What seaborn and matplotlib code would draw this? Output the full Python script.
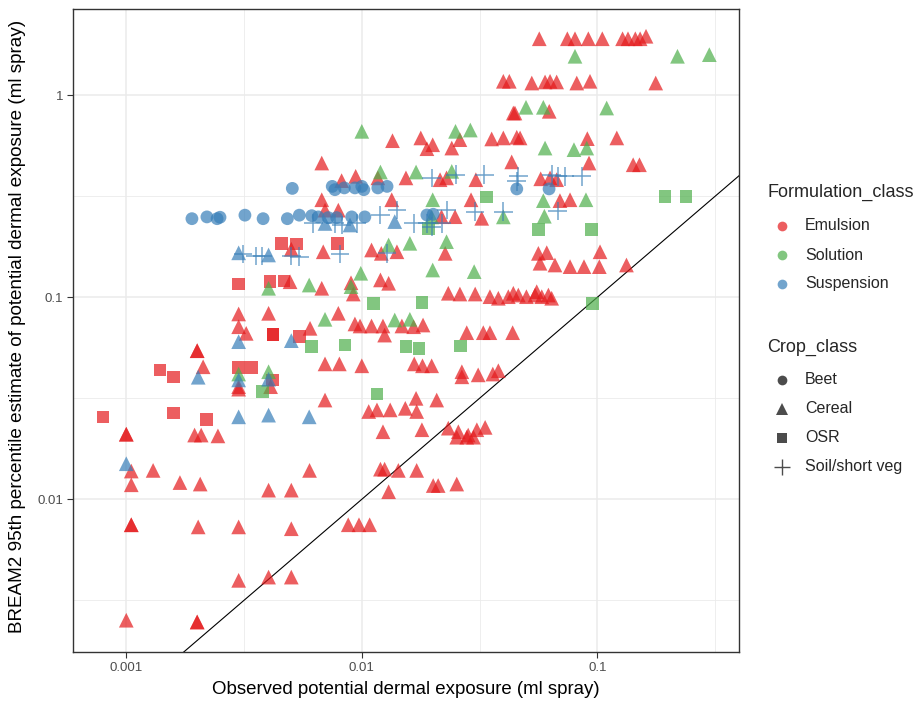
import numpy as np
import pandas as pd
import matplotlib
matplotlib.use("Agg")
import matplotlib.pyplot as plt
import seaborn as sns
from matplotlib.lines import Line2D
from matplotlib.ticker import FixedLocator, FixedFormatter, NullFormatter

sns.set_theme(style="white")
plt.rcParams["font.family"] = ["Liberation Sans", "DejaVu Sans"]

# ---------------- data ----------------
formulation_classes = ["Emulsion", "Solution", "Suspension"]
crop_classes = ["Beet", "Cereal", "OSR", "Soil/short veg"]
x_ticks = [0.001, 0.01, 0.1]
x_tick_labels = ["0.001", "0.01", "0.1"]
y_ticks = [0.01, 0.1, 1]
y_tick_labels = ["0.01", "0.1", "1"]

# Suspension / Beet
susp_beet_x = [0.0019, 0.0022, 0.00243, 0.0025, 0.00319, 0.00381, 0.00483, 0.00543, 0.00613,
               0.00653, 0.0072, 0.00782, 0.00906, 0.0103, 0.0189, 0.0201, 0.00507, 0.00749,
               0.00769, 0.00843, 0.00935, 0.0100, 0.0102, 0.0117, 0.0128, 0.0455, 0.0624]
susp_beet_y = [0.245, 0.25, 0.245, 0.249, 0.255, 0.245, 0.245, 0.255, 0.2535,
               0.25, 0.248, 0.248, 0.25, 0.25, 0.2555, 0.2576, 0.346, 0.354,
               0.341, 0.348, 0.348, 0.354, 0.341, 0.348, 0.354, 0.344, 0.344]

# Suspension / Cereal
susp_cereal_x = [0.00698, 0.00891, 0.0138, 0.003, 0.00402, 0.003, 0.00502, 0.00202, 0.003,
                 0.00402, 0.003, 0.00402, 0.00598, 0.001]
susp_cereal_y = [0.232, 0.228, 0.237, 0.166, 0.162, 0.0603, 0.061, 0.0402, 0.039,
                 0.0393, 0.0256, 0.0261, 0.0256, 0.015]

# Suspension / Soil-short veg
susp_soil_x = [0.00622, 0.00769, 0.00821, 0.00951, 0.012, 0.0141, 0.0166, 0.0189, 0.0218,
               0.0229, 0.0303, 0.0399, 0.0198, 0.0198, 0.025, 0.0331, 0.0455, 0.0462,
               0.064, 0.0679, 0.0729, 0.0858, 0.0679, 0.00313, 0.00354, 0.00378, 0.00502,
               0.00543, 0.00808, 0.0128]
susp_soil_y = [0.232, 0.232, 0.228, 0.232, 0.2555, 0.27, 0.232, 0.232, 0.232,
               0.27, 0.265, 0.265, 0.224, 0.39, 0.404, 0.404, 0.375, 0.397,
               0.404, 0.397, 0.397, 0.397, 0.267, 0.164, 0.16, 0.16, 0.16,
               0.159, 0.164, 0.165]

# Emulsion / Cereal
emul_cereal_x = [0.0567, 0.0746, 0.0804, 0.0916, 0.105, 0.128, 0.135, 0.145, 0.152, 0.161,
                 0.0399, 0.0423, 0.0527, 0.060, 0.063, 0.0672, 0.0818, 0.0931, 0.177,
                 0.044, 0.0447, 0.0625,
                 0.0135, 0.0178, 0.020, 0.0189, 0.0241, 0.0261, 0.0356, 0.0399, 0.0455, 0.047, 0.0907, 0.121,
                 0.00676, 0.0433, 0.0922, 0.142, 0.151,
                 0.00821, 0.00942, 0.0117, 0.0154, 0.0215, 0.0229, 0.0305, 0.0575, 0.063, 0.0672,
                 0.00676, 0.0134, 0.0291, 0.0694, 0.0766,
                 0.00698, 0.00795, 0.0218, 0.0249, 0.0323,
                 0.00686, 0.011, 0.0121, 0.0141, 0.0226, 0.00502, 0.0562, 0.061, 0.1027,
                 0.0571, 0.0661, 0.0766, 0.0878, 0.102, 0.133,
                 0.012, 0.013, 0.009, 0.0092, 0.00676, 0.00496,
                 0.0233, 0.0261, 0.0303, 0.035, 0.038, 0.0419, 0.044, 0.0462, 0.050, 0.0544, 0.0553,
                 0.0581, 0.062, 0.064,
                 0.00795, 0.00603, 0.003, 0.00402,
                 0.00935, 0.00983, 0.011, 0.0123, 0.0148, 0.0166, 0.0182, 0.0125, 0.0279, 0.0328,
                 0.035, 0.0437, 0.003, 0.00323,
                 0.002, 0.002,
                 0.00698, 0.00803, 0.010, 0.0167, 0.0181, 0.0198, 0.00212,
                 0.0266, 0.0266, 0.0312, 0.036, 0.038, 0.003, 0.003, 0.0041,
                 0.00698, 0.0208, 0.017,
                 0.0107, 0.0116, 0.0132, 0.0153, 0.0171,
                 0.0123, 0.018, 0.0233, 0.0257, 0.0283, 0.0308, 0.0334, 0.0253, 0.0279, 0.0298,
                 0.001, 0.001, 0.00195, 0.00208, 0.00245,
                 0.006, 0.012, 0.0125, 0.0143, 0.0171, 0.00105, 0.0013,
                 0.0201, 0.0211, 0.0253, 0.00105, 0.00169, 0.00206, 0.00402, 0.00502, 0.013,
                 0.00105, 0.00105, 0.00202, 0.003, 0.00502, 0.00876, 0.00973, 0.0108,
                 0.003, 0.00402, 0.00502,
                 0.001, 0.002, 0.002]
emul_cereal_y = [1.905, 1.905, 1.905, 1.905, 1.905, 1.905, 1.905, 1.905, 1.905, 1.96,
                 1.173, 1.173, 1.15, 1.164, 1.173, 1.164, 1.15, 1.173, 1.15,
                 0.817, 0.817, 0.833,
                 0.596, 0.615, 0.569, 0.544, 0.548, 0.603, 0.608, 0.615, 0.62, 0.615, 0.61, 0.615,
                 0.462, 0.468, 0.462, 0.453, 0.453,
                 0.378, 0.397, 0.39, 0.39, 0.382, 0.39, 0.382, 0.386, 0.39, 0.382,
                 0.304, 0.304, 0.304, 0.301, 0.304,
                 0.27, 0.27, 0.2506, 0.2506, 0.246,
                 0.168, 0.1715, 0.165, 0.168, 0.165, 0.173, 0.165, 0.1663, 0.168,
                 0.1474, 0.1445, 0.1418, 0.1418, 0.1418, 0.1445,
                 0.1219, 0.1173, 0.118, 0.1038, 0.1108, 0.1194,
                 0.1047, 0.1038, 0.1038, 0.1007, 0.0989, 0.1007, 0.1047, 0.1026, 0.1007, 0.1026, 0.1066,
                 0.1007, 0.1026, 0.0989,
                 0.0833, 0.0702, 0.0827, 0.0833,
                 0.0738, 0.0721, 0.0721, 0.0721, 0.0721, 0.0715, 0.0729, 0.065, 0.0668, 0.0668,
                 0.0668, 0.0668, 0.0715, 0.0663,
                 0.0544, 0.0544,
                 0.0468, 0.0468, 0.0458, 0.0468, 0.0458, 0.0458, 0.0453,
                 0.0428, 0.0404, 0.0413, 0.0417, 0.0433, 0.0361, 0.0351, 0.0361,
                 0.031, 0.031, 0.0316,
                 0.0272, 0.0277, 0.0277, 0.0282, 0.0272,
                 0.0216, 0.0221, 0.0225, 0.0216, 0.0208, 0.0221, 0.0227, 0.0203, 0.0203, 0.0203,
                 0.021, 0.021, 0.0208, 0.0208, 0.0206,
                 0.0139, 0.0141, 0.0141, 0.0139, 0.0139, 0.0138, 0.0139,
                 0.0117, 0.0117, 0.0119, 0.0118, 0.0121, 0.0119, 0.0111, 0.0111, 0.0109,
                 0.00748, 0.00748, 0.0073, 0.0073, 0.00715, 0.00748, 0.00748, 0.00748,
                 0.00397, 0.00412, 0.00412,
                 0.00252, 0.00247, 0.00247]

# Emulsion / OSR
emul_osr_x = [0.00529, 0.00787, 0.00455, 0.003, 0.00408, 0.00467, 0.0042, 0.0042, 0.00543,
              0.003, 0.0034, 0.00417, 0.00139, 0.00159, 0.000796, 0.00159, 0.00219]
emul_osr_y = [0.1836, 0.185, 0.185, 0.1164, 0.1194, 0.1205, 0.0656, 0.0656, 0.0638,
              0.0448, 0.0448, 0.039, 0.0436, 0.0404, 0.0255, 0.0268, 0.0249]

# Solution / Cereal
sol_cereal_x = [0.0804, 0.219, 0.299, 0.0498, 0.059, 0.1096, 0.010, 0.025, 0.0289, 0.060,
                0.0796, 0.0902, 0.012, 0.017, 0.0241, 0.020, 0.059, 0.0895, 0.0596, 0.0198,
                0.0399, 0.013, 0.016, 0.0229, 0.0099, 0.020, 0.030, 0.009, 0.00598, 0.00402,
                0.00698, 0.0138, 0.016, 0.003, 0.00402]
sol_cereal_y = [1.56, 1.56, 1.589, 0.872, 0.872, 0.865, 0.663, 0.663, 0.673, 0.548,
                0.538, 0.548, 0.417, 0.417, 0.42, 0.304, 0.301, 0.304, 0.252, 0.25,
                0.25, 0.1815, 0.185, 0.1885, 0.1315, 0.1365, 0.134, 0.1129, 0.115, 0.1108,
                0.0778, 0.0772, 0.0778, 0.0417, 0.0428]

# Solution / OSR
sol_osr_x = [0.0339, 0.194, 0.238, 0.0562, 0.0947, 0.0192, 0.0112, 0.018, 0.0955, 0.00613,
             0.00848, 0.0154, 0.0175, 0.0263, 0.0116, 0.00378]
sol_osr_y = [0.313, 0.316, 0.316, 0.2172, 0.2172, 0.2197, 0.0933, 0.094, 0.0933, 0.0569,
             0.058, 0.0569, 0.0559, 0.0574, 0.0332, 0.0341]

# ---------------- build table ----------------
groups = [
    ("Emulsion", "Cereal", emul_cereal_x, emul_cereal_y),
    ("Emulsion", "OSR", emul_osr_x, emul_osr_y),
    ("Solution", "Cereal", sol_cereal_x, sol_cereal_y),
    ("Solution", "OSR", sol_osr_x, sol_osr_y),
    ("Suspension", "Beet", susp_beet_x, susp_beet_y),
    ("Suspension", "Cereal", susp_cereal_x, susp_cereal_y),
    ("Suspension", "Soil/short veg", susp_soil_x, susp_soil_y),
]
frames = [pd.DataFrame({"obs": xs, "pred": ys, "Formulation_class": f, "Crop_class": c})
          for f, c, xs, ys in groups]
df = pd.concat(frames, ignore_index=True)

palette = {"Emulsion": "#E41A1C", "Solution": "#4DAF4A", "Suspension": "#377EB8"}
markers = {"Beet": "o", "Cereal": "^", "OSR": "s", "Soil/short veg": "+"}
sizes = {"Beet": 85, "Cereal": 112, "OSR": 82, "Soil/short veg": 180}

W, H = 922, 701
fig = plt.figure(figsize=(W / 100, H / 100), dpi=100)
ax = fig.add_axes([73 / W, 1 - 652 / H, (739 - 73) / W, (652 - 9) / H])
ax.set_xscale("log")
ax.set_yscale("log")

for f, c, xs, ys in groups:
    sub = df[(df.Formulation_class == f) & (df.Crop_class == c)]
    filled = c != "Soil/short veg"
    sns.scatterplot(data=sub, x="obs", y="pred", hue="Formulation_class", palette=palette,
                    marker=markers[c], s=sizes[c], alpha=0.7,
                    linewidth=0 if filled else 1.1, legend=False, ax=ax, zorder=3)

# 1:1 reference line
ax.plot([1e-4, 10], [1e-4, 10], color="black", lw=0.8, zorder=2)

ax.set_xlim(0.000594, 0.3996)
ax.set_ylim(0.001754, 2.674)

ax.xaxis.set_major_locator(FixedLocator(x_ticks))
ax.xaxis.set_major_formatter(FixedFormatter(x_tick_labels))
ax.yaxis.set_major_locator(FixedLocator(y_ticks))
ax.yaxis.set_major_formatter(FixedFormatter(y_tick_labels))
ax.xaxis.set_minor_locator(FixedLocator([10 ** -3.5, 10 ** -2.5, 10 ** -1.5, 10 ** -0.5]))
ax.yaxis.set_minor_locator(FixedLocator([10 ** -2.5, 10 ** -1.5, 10 ** -0.5]))
ax.xaxis.set_minor_formatter(NullFormatter())
ax.yaxis.set_minor_formatter(NullFormatter())

ax.set_axisbelow(True)
ax.grid(which="major", color="#EBEBEB", lw=1.1)
ax.grid(which="minor", color="#EBEBEB", lw=0.6)
for sp in ax.spines.values():
    sp.set_color("#333333")
    sp.set_linewidth(1.0)
ax.tick_params(which="major", direction="out", length=4, width=0.8, color="#333333",
               labelsize=9.5, labelcolor="#4D4D4D", pad=3, bottom=True, left=True)
ax.tick_params(which="minor", length=0)

ax.set_xlabel("Observed potential dermal exposure (ml spray)", fontsize=13.4, color="black")
ax.xaxis.set_label_coords(0.5, -0.058)
ax.xaxis.label.set_va("center")
ax.set_ylabel("BREAM2 95th percentile estimate of potential dermal exposure (ml spray)",
              fontsize=13.6, color="black")
ax.yaxis.set_label_coords(-0.084, 0.507)
ax.yaxis.label.set_va("center")

# ---------------- legends (ggplot-style, two guides) ----------------
def fx(px):
    return px / W

def fy(py):
    return 1 - py / H

fig.text(fx(767), fy(192), "Formulation_class", fontsize=13, va="center", ha="left")
for lab, py in zip(formulation_classes, [226, 255, 284]):
    fig.add_artist(Line2D([fx(782)], [fy(py)], marker="o", markersize=7, color=palette[lab],
                          alpha=0.7, markeredgewidth=0, linestyle="None",
                          transform=fig.transFigure))
    fig.text(fx(805), fy(py), lab, fontsize=11.5, va="center", ha="left")

fig.text(fx(767), fy(347), "Crop_class", fontsize=13, va="center", ha="left")
key_sizes = {"Beet": 7, "Cereal": 8.5, "OSR": 7, "Soil/short veg": 11}
for lab, py in zip(crop_classes, [380, 409, 438, 467]):
    m = markers[lab]
    fig.add_artist(Line2D([fx(782)], [fy(py)], marker=m, markersize=key_sizes[lab],
                          color="black", alpha=0.7,
                          markeredgewidth=0 if m != "+" else 1.0, linestyle="None",
                          transform=fig.transFigure))
    fig.text(fx(805), fy(py), lab, fontsize=11.5, va="center", ha="left")

fig.savefig("out.png", dpi=100)
